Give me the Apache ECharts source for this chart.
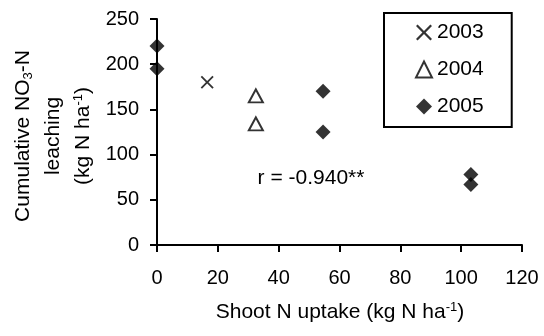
<!DOCTYPE html>
<html>
<head>
<meta charset="utf-8">
<script src="https://cdn.jsdelivr.net/npm/echarts@6/dist/echarts.min.js"></script>
<style>
  html, body { margin: 0; padding: 0; background: #fff; }
  #chart { width: 544px; height: 336px; }
</style>
</head>
<body>
<div id="chart"></div>
<script>
// values
var xTicks = [0, 120, 20];   // min, max, step
var yTicks = [0, 250, 50];
var seriesNames = ['2003', '2004', '2005'];
var data2003 = [[16.5, 180]];
var data2004 = [[32.5, 165], [32.5, 134]];
var data2005 = [[0, 220], [0, 195], [54.6, 170], [54.6, 125], [103.2, 78], [103.2, 67]];
var xTitle = '{a|Shoot N uptake (kg N ha}{sup|-1}{a|)}';
var yTitle = '{a|Cumulative NO}{sub|3}{a|-N}\n{a|leaching}\n{a|(kg N ha}{sup|-1}{a|)}';
var rText = 'r = -0.940**';

var font = 'Liberation Sans, Arial, sans-serif';
var fs = 20;   // tick labels
var ft = 21;   // titles, legend, note
var crossPath = 'path://M0,2 L2,0 L10,8 L18,0 L20,2 L12,10 L20,18 L18,20 L10,12 L2,20 L0,18 L8,10 Z';

var chart = echarts.init(document.getElementById('chart'));

function lineStyle() {
    return { color: '#000', width: 2 };
}

// titles are placed as plain text so they don't push the plot area around
var titleRich = {
    a: { fontSize: ft, fontFamily: font, fill: '#000', lineHeight: 30 },
    sub: { fontSize: 13, fontFamily: font, fill: '#000', lineHeight: 30, padding: [10, 0, 0, 0] },
    sup: { fontSize: 13, fontFamily: font, fill: '#000', lineHeight: 30, padding: [0, 0, 10, 0] }
};

var option = {
    animation: false,
    grid: { left: 157, right: 22, top: 19, bottom: 91 },
    xAxis: {
        type: 'value',
        min: xTicks[0],
        max: xTicks[1],
        interval: xTicks[2],
        splitLine: { show: false },
        axisLine: { show: true, lineStyle: lineStyle() },
        axisTick: { show: true, length: 7, lineStyle: lineStyle() },
        axisLabel: { color: '#000', fontSize: fs, margin: 23 }
    },
    yAxis: {
        type: 'value',
        min: yTicks[0],
        max: yTicks[1],
        interval: yTicks[2],
        splitLine: { show: false },
        axisLine: { show: true, lineStyle: lineStyle() },
        axisTick: { show: true, length: 7, lineStyle: lineStyle() },
        axisLabel: { color: '#000', fontSize: fs, margin: 18 }
    },
    legend: {
        orient: 'vertical',
        left: 384,
        top: 13,
        padding: [9, 28, 10, 31],
        itemGap: 16,
        itemWidth: 16,
        itemHeight: 16,
        borderColor: '#000',
        borderWidth: 2,
        textStyle: { color: '#000', fontSize: ft, fontFamily: font },
        data: seriesNames
    },
    graphic: [
        {
            type: 'text',
            x: 340,
            y: 312,
            style: { text: xTitle, rich: titleRich, align: 'center', verticalAlign: 'middle' }
        },
        {
            type: 'text',
            x: 53,
            y: 136,
            rotation: Math.PI / 2,
            style: { text: yTitle, rich: titleRich, align: 'center', verticalAlign: 'middle' }
        },
        {
            type: 'text',
            x: 311,
            y: 178,
            style: { text: rText, fill: '#000', fontSize: ft, fontFamily: font, align: 'center', verticalAlign: 'middle' }
        }
    ],
    series: [
        {
            name: seriesNames[0],
            type: 'scatter',
            data: data2003,
            symbol: crossPath,
            symbolSize: 13,
            itemStyle: { color: '#000' }
        },
        {
            name: seriesNames[1],
            type: 'scatter',
            data: data2004,
            symbol: 'triangle',
            symbolSize: [14, 13],
            itemStyle: { color: '#fff', borderColor: '#000', borderWidth: 2 }
        },
        {
            name: seriesNames[2],
            type: 'scatter',
            data: data2005,
            symbol: 'diamond',
            symbolSize: 15,
            itemStyle: { color: '#000' }
        }
    ]
};

chart.setOption(option);
</script>
</body>
</html>
